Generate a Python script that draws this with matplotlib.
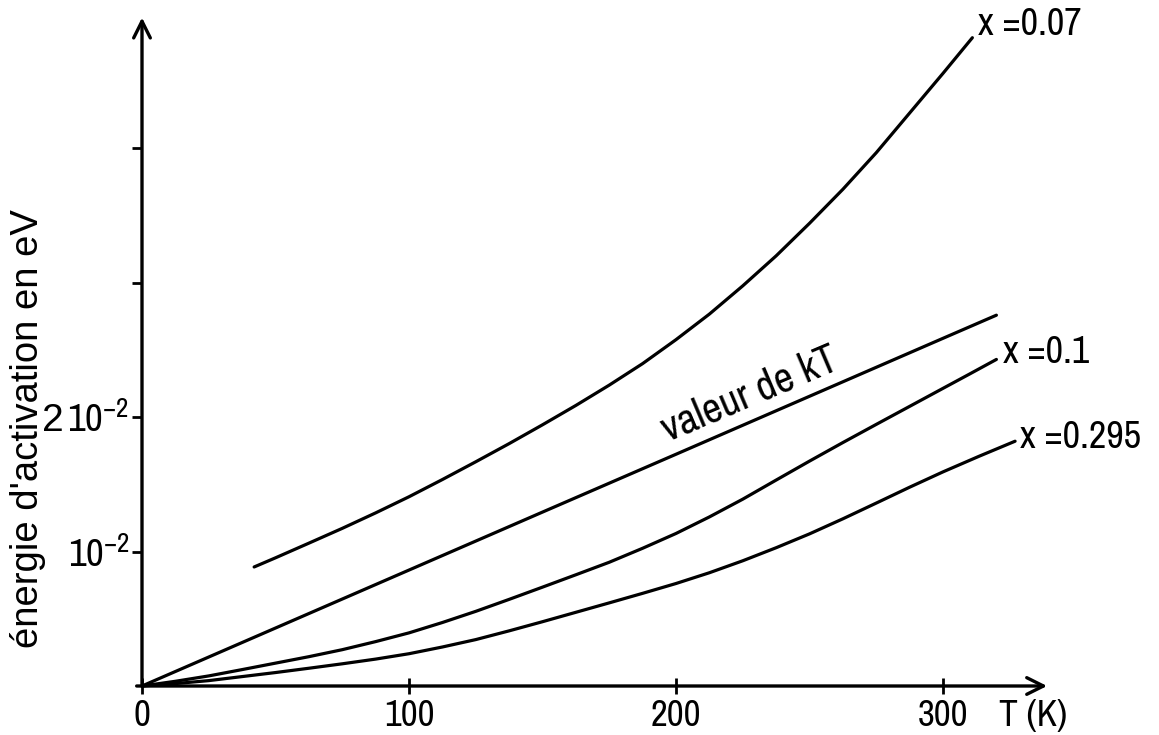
import matplotlib
matplotlib.use('Agg')
import matplotlib.pyplot as plt
from matplotlib import font_manager as fm

# ---------------- data ----------------
# temperature in K, activation energy in units of 1e-2 eV
T_x007 = [42, 50, 62.5, 75, 87.5, 100, 112.5, 125, 137.5, 150, 162.5, 175, 187.5,
          200, 212.5, 225, 237.5, 250, 262.5, 275, 287.5, 300, 311]
E_x007 = [0.885, 0.953, 1.062, 1.172, 1.287, 1.407, 1.535, 1.667, 1.802, 1.942, 2.086,
          2.237, 2.397, 2.575, 2.765, 2.975, 3.198, 3.44, 3.693, 3.965, 4.26, 4.555, 4.82]

T_kT = [0, 50, 100, 150, 200, 250, 300, 320]
E_kT = [0, 0.431, 0.862, 1.293, 1.723, 2.154, 2.585, 2.757]

T_x01 = [0, 12.5, 25, 37.5, 50, 62.5, 75, 87.5, 100, 112.5, 125, 137.5, 150, 162.5, 175,
         187.5, 200, 212.5, 225, 237.5, 250, 262.5, 275, 287.5, 300, 310, 320]
E_x01 = [0, 0.035, 0.075, 0.122, 0.17, 0.218, 0.27, 0.33, 0.395, 0.472, 0.555, 0.644,
         0.735, 0.827, 0.92, 1.024, 1.134, 1.257, 1.389, 1.531, 1.672, 1.810, 1.945, 2.079,
         2.213, 2.32, 2.428]

T_x0295 = [0, 12.5, 25, 37.5, 50, 62.5, 75, 87.5, 100, 112.5, 125, 137.5, 150, 162.5, 175,
           187.5, 200, 212.5, 225, 237.5, 250, 262.5, 275, 287.5, 300, 313.5, 327]
E_x0295 = [0, 0.018, 0.04, 0.07, 0.1, 0.132, 0.165, 0.2, 0.24, 0.29, 0.345, 0.41, 0.478,
           0.548, 0.618, 0.689, 0.762, 0.842, 0.931, 1.028, 1.131, 1.243, 1.360, 1.478,
           1.592, 1.708, 1.820]

x_ticks = [0, 100, 200, 300]
x_ticklabels = ['0', '100', '200', '300']
y_ticks = [1, 2, 3, 4]
y_ticklabels = [r'$10^{-2}$', r'$\mathsf{2}\,10^{-2}$', '', '']

curve_labels = ['x =0.07', 'x =0.1', 'x =0.295']
kT_label = 'valeur de kT'
x_label = 'T (K)'
y_label = "énergie d'activation en eV"

# ---------------- fonts ----------------
names = {f.name for f in fm.fontManager.ttflist}
REG = 'Liberation Sans' if 'Liberation Sans' in names else 'DejaVu Sans'
COND = None
for f in fm.fontManager.ttflist:
    if ('Narrow' in f.name or 'Condensed' in f.name) and f.style == 'normal':
        COND = f.name
        break
if COND is None:
    for f in fm.fontManager.ttflist:
        if f.stretch in ('condensed', 'semi-condensed') and f.style == 'normal':
            COND = f.name
            break

if COND is not None:
    FONT = COND
    s_xt, s_yt, s_lab, s_kt, s_T = 26.5, 28, 27.5, 30, 27
else:
    FONT = REG
    s_xt, s_yt, s_lab, s_kt, s_T = 22.5, 24, 23, 25, 24

plt.rcParams['font.family'] = [FONT, 'DejaVu Sans']
plt.rcParams['mathtext.fontset'] = 'custom'
plt.rcParams['mathtext.rm'] = FONT
plt.rcParams['mathtext.it'] = FONT
plt.rcParams['mathtext.bf'] = REG + ':bold'
plt.rcParams['mathtext.sf'] = REG

W, H = 1159, 735
fig = plt.figure(figsize=(W / 100, H / 100), dpi=100)
x0, y0 = 142, 686          # pixel of origin
xmax, ymax = 339, 4.97
px_per_T = 2.67
px_per_E = 134.5
ax = fig.add_axes([x0 / W, (H - y0) / H, xmax * px_per_T / W, ymax * px_per_E / H])
ax.set_xlim(0, xmax)
ax.set_ylim(0, ymax)
for s in ax.spines.values():
    s.set_visible(False)
ax.patch.set_visible(False)

lw = 2.3
for T, E in [(T_x007, E_x007), (T_kT, E_kT), (T_x01, E_x01), (T_x0295, E_x0295)]:
    ax.plot(T, E, color='black', lw=lw, solid_capstyle='round',
            solid_joinstyle='round', clip_on=False)

# axes with arrows
arrow = dict(arrowstyle='->', lw=2.4, color='black', mutation_scale=30, shrinkA=0, shrinkB=0)
ax.annotate('', xy=(xmax, 0), xytext=(-2, 0), xycoords='data', arrowprops=arrow, annotation_clip=False)
ax.annotate('', xy=(0, ymax), xytext=(0, 0), xycoords='data', arrowprops=arrow, annotation_clip=False)

ax.set_xticks(x_ticks)
ax.set_xticklabels(x_ticklabels)
ax.set_yticks(y_ticks)
ax.set_yticklabels(y_ticklabels)
ax.tick_params(axis='x', direction='inout', length=12, width=2, pad=3, labelsize=s_xt)
ax.tick_params(axis='y', direction='out', length=7, width=2, pad=2, labelsize=s_yt)

# curve labels
ax.text(313, 4.915, curve_labels[0], ha='left', va='center', fontsize=s_lab, clip_on=False)
ax.text(322.5, 2.476, curve_labels[1], ha='left', va='center', fontsize=s_lab, clip_on=False)
ax.text(328.8, 1.851, curve_labels[2], ha='left', va='center', fontsize=s_lab, clip_on=False)
ax.text(227.7, 2.17, kT_label, ha='center', va='center', rotation=23, fontsize=s_kt,
        rotation_mode='anchor')
ax.text(333.7, -0.216, x_label, ha='center', va='center', fontsize=s_T, clip_on=False)

fig.text(28 / W, 1 - 429 / H, y_label, rotation=90, ha='center', va='center',
         fontsize=27.5, family=[REG, 'DejaVu Sans'])

fig.savefig('out.png', dpi=100)
